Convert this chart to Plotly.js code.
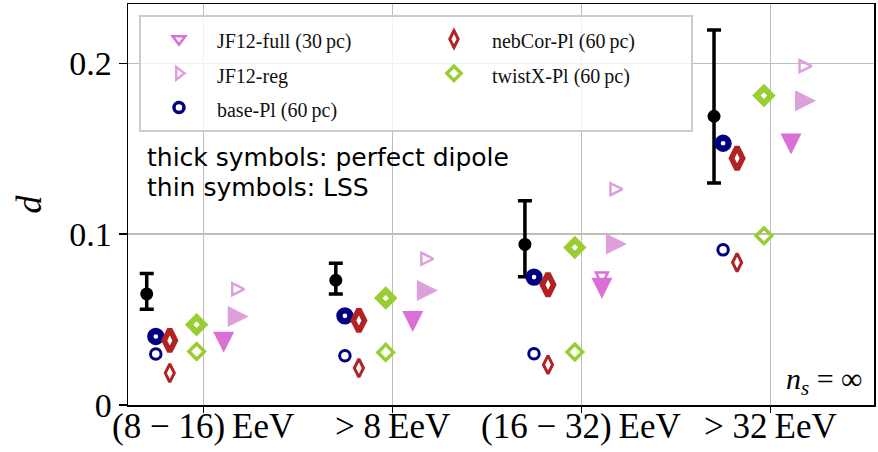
<!DOCTYPE html>
<html>
<head>
<meta charset="utf-8">
<script src="https://cdn.plot.ly/plotly-3.0.1.min.js"></script>
<style>
  html, body { margin: 0; padding: 0; background: #fff; }
  #chart { width: 878px; height: 452px; }
</style>
</head>
<body>
<div id="chart"></div>
<script>
// Energy bins (x categories)
const energyBins = [
  '(8\u2005\u2212\u200516)\u2009EeV',
  '> 8\u2009EeV',
  '(16\u2005\u2212\u200532)\u2009EeV',
  '> 32\u2009EeV'
];

// Measured dipole amplitude with its uncertainty band
const measured     = [0.065, 0.073, 0.094, 0.169];
const measuredLow  = [0.056, 0.065, 0.075, 0.130];
const measuredHigh = [0.077, 0.083, 0.1195, 0.2195];

// Model predictions: perfect dipole (thick) and LSS (thin)
const jf12FullDipole = [0.0367, 0.0489, 0.0684, 0.1527];
const jf12FullLSS    = [0.0367, 0.0489, 0.0740, 0.1527];
const jf12RegDipole  = [0.0518, 0.0670, 0.0943, 0.1781];
const jf12RegLSS     = [0.0678, 0.0856, 0.1263, 0.1984];
const basePlDipole   = [0.0401, 0.0522, 0.0749, 0.1532];
const basePlLSS      = [0.0298, 0.0288, 0.0300, 0.0908];
const nebCorDipole   = [0.0378, 0.0495, 0.0704, 0.1444];
const nebCorLSS      = [0.0187, 0.0216, 0.0236, 0.0834];
const twistXDipole   = [0.0470, 0.0626, 0.0922, 0.1811];
const twistXLSS      = [0.0313, 0.0308, 0.0310, 0.0990];

const idx = energyBins.map((_, i) => i);
const shift = (dx) => idx.map(i => i + dx);
const legendLabel = (t) => '<span style="font-size:20px">' + t + '</span>';

const models = [
  { label: 'JF12-full (30\u2009pc)', thin: jf12FullLSS, thick: jf12FullDipole, dx: 0.108, color: '#DA70D6', rank: 1,
    keyM: { symbol: 'triangle-down-open', size: 11, line: { width: 2.5 } },
    thinM: { symbol: 'arrow-down-open', size: 12, line: { width: 2.5 }, standoff: 6 },
    thickM: { symbol: 'arrow-down', size: 21, line: { width: 0 }, standoff: 10.5 } },
  { label: 'JF12-reg', thin: jf12RegLSS, thick: jf12RegDipole, dx: 0.185, color: '#DDA0DD', rank: 3,
    keyM: { symbol: 'triangle-right-open', size: 11, line: { width: 2.5 } },
    thinM: { symbol: 'arrow-down-open', size: 12, line: { width: 2.5 }, standoff: 6, angle: -90 },
    thickM: { symbol: 'arrow-down', size: 21, line: { width: 0 }, standoff: 10.5, angle: -90 } },
  { label: 'base-Pl (60\u2009pc)', thin: basePlLSS, thick: basePlDipole, dx: -0.251, color: '#000080', rank: 5,
    keyM: { symbol: 'circle-open', size: 10, line: { width: 3.5 } },
    thinM: { symbol: 'circle-open', size: 10.5, line: { width: 3 } },
    thickM: { symbol: 'circle-open', size: 11, line: { width: 6.3 } } },
  { label: 'nebCor-Pl (60\u2009pc)', thin: nebCorLSS, thick: nebCorDipole, dx: -0.177, color: '#B22222', rank: 2,
    keyM: { symbol: 'diamond-tall-open', size: 12, line: { width: 3 } },
    thinM: { symbol: 'diamond-tall-open', size: 13, line: { width: 3 } },
    thickM: { symbol: 'diamond-tall-open', size: 16, line: { width: 5.5 } } },
  { label: 'twistX-Pl (60\u2009pc)', thin: twistXLSS, thick: twistXDipole, dx: -0.035, color: '#9ACD32', rank: 4,
    keyM: { symbol: 'diamond-open', size: 11, line: { width: 3.5 } },
    thinM: { symbol: 'diamond-open', size: 12, line: { width: 3.5 } },
    thickM: { symbol: 'diamond-open', size: 11.5, line: { width: 6 } } }
];

const styled = (m, spec) =>
  Object.assign({ color: m.color }, spec, { line: Object.assign({ color: m.color }, spec.line) });

const traces = [];

// measured values with error bars
traces.push({
  type: 'scatter', mode: 'markers', showlegend: false, hoverinfo: 'skip',
  x: shift(-0.299), y: measured,
  marker: { symbol: 'circle', size: 13, color: '#000' },
  error_y: {
    type: 'data', symmetric: false,
    array: measuredHigh.map((h, i) => h - measured[i]),
    arrayminus: measuredLow.map((l, i) => measured[i] - l),
    color: '#000', thickness: 3.5, width: 7
  }
});

// LSS (thin) symbols, below the dipole ones
models.forEach(m => {
  traces.push({
    type: 'scatter', mode: 'markers', showlegend: false, hoverinfo: 'skip',
    x: shift(m.dx), y: m.thin, marker: styled(m, m.thinM)
  });
});

// perfect dipole (thick) symbols
models.forEach(m => {
  traces.push({
    type: 'scatter', mode: 'markers', showlegend: false, hoverinfo: 'skip',
    x: shift(m.dx), y: m.thick, marker: styled(m, m.thickM)
  });
});

// legend keys (thin style)
models.forEach(m => {
  traces.push({
    type: 'scatter', mode: 'markers', name: legendLabel(m.label), legendrank: m.rank,
    x: [null], y: [null], hoverinfo: 'skip', marker: styled(m, m.keyM)
  });
});

const gridColor = 'rgb(190,190,190)';
const serif = 'Liberation Serif, Times New Roman, serif';

// category labels under the axis
const binLabels = energyBins.map((t, i) => ({
  xref: 'x', yref: 'paper', x: i, y: 0, xanchor: 'center', yanchor: 'top', yshift: 0,
  showarrow: false, text: t, font: { family: serif, size: 35, color: '#000' }
}));

const layout = {
  width: 878, height: 452,
  margin: { l: 128, r: 4, t: 4, b: 47 },
  paper_bgcolor: '#fff', plot_bgcolor: '#fff',
  showlegend: true,
  xaxis: {
    range: [-0.398, 3.547], tickmode: 'array', tickvals: idx, showticklabels: false,
    showgrid: true, gridcolor: gridColor, gridwidth: 1.3, zeroline: false,
    ticks: 'outside', ticklen: 6, tickwidth: 1.5, tickcolor: '#000',
    showline: true, mirror: true, linecolor: '#000', linewidth: 1.5
  },
  yaxis: {
    range: [0, 0.2347], tickmode: 'array', tickvals: [0, 0.1, 0.2], ticktext: ['0', '0.1', '0.2'],
    showgrid: true, gridcolor: gridColor, gridwidth: 1.3, zeroline: false,
    ticks: 'outside', ticklen: 8, tickwidth: 1.5, tickcolor: '#000',
    showline: true, mirror: true, linecolor: '#000', linewidth: 1.5,
    tickfont: { family: serif, size: 34, color: '#000' },
    title: { text: '<i>d</i>', font: { family: serif, size: 36, color: '#000' }, standoff: 16 }
  },
  legend: {
    orientation: 'h', x: 0.0147, y: (405 - 15) / 401, xanchor: 'left', yanchor: 'top',
    bgcolor: 'rgba(255,255,255,0.8)', bordercolor: '#cccccc', borderwidth: 2,
    font: { family: serif, size: 24, color: '#111' },
    itemwidth: 66, entrywidth: 194, entrywidthmode: 'pixels', traceorder: 'normal',
    itemclick: false, itemdoubleclick: false
  },
  annotations: binLabels.concat([
    { xref: 'paper', yref: 'paper', x: 0.0228, y: (405 - 157) / 401, xanchor: 'left', yanchor: 'middle',
      showarrow: false, text: 'thick symbols: perfect dipole',
      font: { family: 'DejaVu Sans', size: 25, color: '#000' } },
    { xref: 'paper', yref: 'paper', x: 0.0228, y: (405 - 187) / 401, xanchor: 'left', yanchor: 'middle',
      showarrow: false, text: 'thin symbols: LSS',
      font: { family: 'DejaVu Sans', size: 25, color: '#000' } },
    { xref: 'paper', yref: 'paper', x: 0.988, y: 0.06, xanchor: 'right', yanchor: 'middle',
      showarrow: false, text: '<i>n</i><sub><i>s</i></sub> = \u221e',
      font: { family: serif, size: 30, color: '#000' } }
  ])
};

Plotly.newPlot('chart', traces, layout, { staticPlot: true, displayModeBar: false });
</script>
</body>
</html>
